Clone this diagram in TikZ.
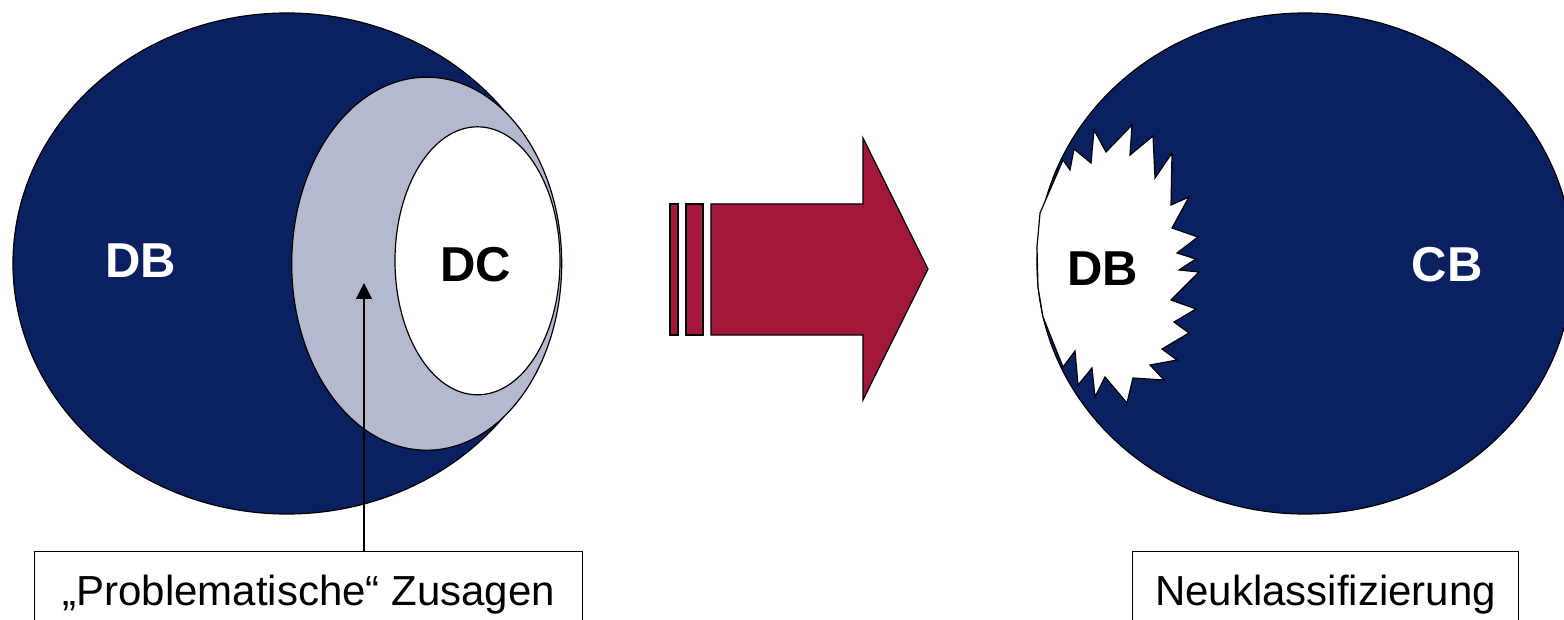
\documentclass[tikz,border=0pt]{standalone}
\usepackage{fontspec}
\setmainfont{Liberation Sans}
\usetikzlibrary{shapes.geometric,arrows.meta}
\definecolor{navy}{RGB}{10,32,96}
\definecolor{lightgrey}{RGB}{180,185,206}
\definecolor{arrowred}{RGB}{163,23,58}

\begin{document}
\begin{tikzpicture}[x=1pt,y=-1pt,
  blob/.style={draw,ellipse,inner sep=0pt,line width=1.2pt},
  tag/.style={font=\fontsize{49}{52}\selectfont\bfseries},
  note/.style={draw,line width=1.2pt,minimum height=86pt,anchor=north west,inner sep=0pt,font=\fontsize{42}{46}\selectfont}]
\useasboundingbox (0,0) rectangle (1564,620);
% left side
\node (db) [blob,fill=navy,minimum width=548pt,minimum height=501pt] at (287,263.5) {};
\node (grey) [blob,fill=lightgrey,minimum width=270pt,minimum height=373pt] at (426.7,263.7) {};
\node (dc) [blob,fill=white,minimum width=165pt,minimum height=268pt] at (477.5,260.8) {};
\node [tag,white] at (141,260.5) {DB};
\node [tag] at (476,265) {DC};
% big arrow
\draw [fill=arrowred,line width=1.2pt] (670,204) rectangle (678,335);
\draw [fill=arrowred,line width=1.2pt] (686,204) rectangle (703,335);
\draw [fill=arrowred,line width=1.2pt] (711,204) -- (863,204) -- (863,138) -- (928,269)
  -- (863,400) -- (863,335) -- (711,335) -- cycle;
% right side
\node (cb) [blob,fill=navy,minimum width=536pt,minimum height=501pt] at (1305,263.5) {};
\draw [fill=white,line width=1.2pt] (1063,160) -- (1070,170) -- (1074,149) -- (1091,163)
  -- (1094,130) -- (1106,152) -- (1132,125) -- (1130,155) -- (1153,136) -- (1155,178)
  -- (1172,153) -- (1171,205) -- (1189,197) -- (1172,228) -- (1198,237) -- (1177,253)
  -- (1196,259) -- (1179,270) -- (1199,272) -- (1171,300) -- (1196,309) -- (1174,322)
  -- (1189,333) -- (1162,349) -- (1177,360) -- (1150,365) -- (1164,380) -- (1133,378)
  -- (1127,403) -- (1105,377) -- (1095,397) -- (1092,368) -- (1078,385) -- (1075,351)
  -- (1063,367) -- (1043,317) -- (1038,287) -- (1037,247) -- (1040,213) -- cycle;
\node [tag] at (1102.5,269) {DB};
\node [tag,white] at (1447,265) {CB};
% labels
\node (prob) [note,minimum width=548pt] at (34,551) {„Problematische“ Zusagen};
\node (neu) [note,minimum width=386pt] at (1132,551) {Neuklassifizierung};
\coordinate (tip) at (364,283);
\draw [line width=1.2pt,-{Triangle[width=16pt,length=16pt]}] (prob.north -| tip) -- (tip);
\end{tikzpicture}
\end{document}
